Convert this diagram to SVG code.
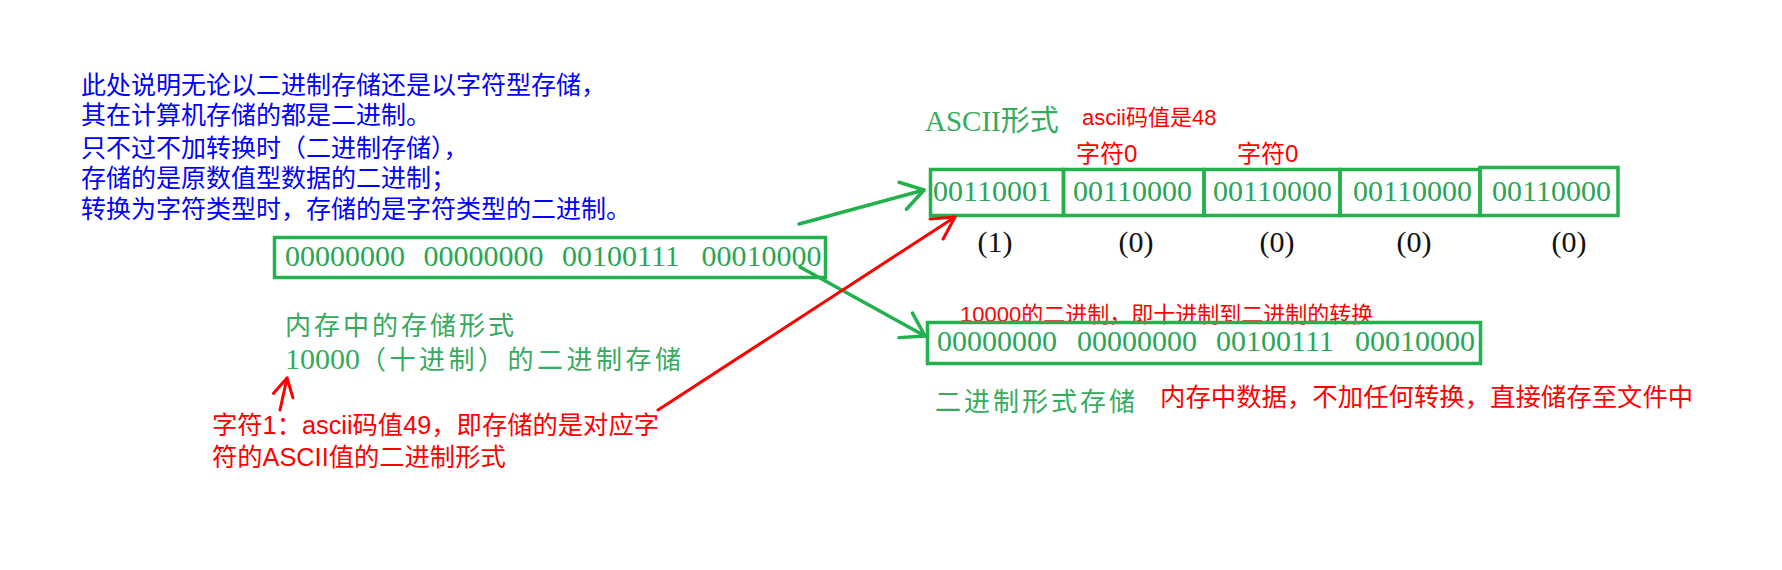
<svg xmlns="http://www.w3.org/2000/svg" width="1782" height="570" viewBox="0 0 1782 570">
<style>
.bg{fill:#ffffff}
.box{fill:none;stroke:#22b14c;stroke-width:3.5}
.bin{font-family:"Liberation Serif","Noto Sans CJK SC",serif;font-size:30px;fill:#2aa656}
.glab{font-family:"Liberation Serif","Noto Sans CJK SC",serif;font-size:26px;letter-spacing:3px;fill:#35ab5e}
.gnum{font-size:30px;letter-spacing:0}
.blue{font-family:"Liberation Sans","Noto Sans CJK SC",sans-serif;font-size:25px;fill:#0000ff}
.red{font-family:"Liberation Sans","Noto Sans CJK SC",sans-serif;fill:#ff0000}
.idx{font-family:"Liberation Serif","Noto Sans CJK SC",serif;font-size:30px;fill:#111;text-anchor:middle}
.gline{fill:none;stroke:#22b14c;stroke-width:3.5;stroke-linecap:round}
.rline{fill:none;stroke:#ff0000;stroke-width:3;stroke-linecap:round}
</style>
<defs>
<marker id="ag" markerUnits="userSpaceOnUse" markerWidth="40" markerHeight="40" viewBox="-30 -20 40 40" refX="0" refY="0" orient="auto">
<path d="M-22,-14 L0,0 L-22,14" fill="none" stroke="#22b14c" stroke-width="3.5" stroke-linecap="round" stroke-linejoin="round"/>
</marker>
<marker id="ar" markerUnits="userSpaceOnUse" markerWidth="40" markerHeight="40" viewBox="-30 -20 40 40" refX="0" refY="0" orient="auto">
<path d="M-22,-12 L0,0 L-22,12" fill="none" stroke="#ff0000" stroke-width="3" stroke-linecap="round" stroke-linejoin="round"/>
</marker>
<marker id="ar2" markerUnits="userSpaceOnUse" markerWidth="40" markerHeight="40" viewBox="-30 -20 40 40" refX="0" refY="0" orient="auto">
<path d="M-18,-10 L0,0 L-18,10" fill="none" stroke="#ff0000" stroke-width="3" stroke-linecap="round" stroke-linejoin="round"/>
</marker>
</defs>
<rect class="bg" x="0" y="0" width="1782" height="570"/>

<g id="note-blue">
<text class="blue" x="81" y="94">此处说明无论以二进制存储还是以字符型存储，</text>
<text class="blue" x="81" y="124">其在计算机存储的都是二进制。</text>
<text class="blue" x="81" y="157">只不过不加转换时（二进制存储），</text>
<text class="blue" x="81" y="187">存储的是原数值型数据的二进制；</text>
<text class="blue" x="81" y="218">转换为字符类型时，存储的是字符类型的二进制。</text>
</g>

<g id="memory-box">
<rect class="box" x="274.5" y="237.5" width="551" height="40"/>
<text class="bin" y="265.5"><tspan x="285">00000000</tspan><tspan x="423.5">00000000</tspan><tspan x="562">00100111</tspan><tspan x="701.5">00010000</tspan></text>
</g>

<g id="memory-label">
<text class="glab" x="285" y="335">内存中的存储形式</text>
<text class="glab" y="369"><tspan class="gnum" x="285">10000</tspan><tspan x="360" style="letter-spacing:3.5px">（十进制）的二进制存储</tspan></text>
</g>

<g id="ascii-title">
<text x="925" y="131" style="font-family:'Liberation Serif','Noto Sans CJK SC',serif;font-size:29px;fill:#35ab5e">ASCII形式</text>
<text class="red" x="1082" y="125" style="font-size:22px">ascii码值是48</text>
<text class="red" x="1076" y="161.5" style="font-size:24px">字符0</text>
<text class="red" x="1237" y="161.5" style="font-size:24px">字符0</text>
</g>

<g id="ascii-box">
<rect class="box" x="930.5" y="169.5" width="133" height="46"/>
<rect class="box" x="1063.5" y="169.5" width="140.5" height="46"/>
<rect class="box" x="1204" y="169.5" width="136" height="46"/>
<rect class="box" x="1340" y="169.5" width="140" height="46"/>
<rect class="box" x="1480" y="167.5" width="138" height="48"/>
<text class="bin" y="201"><tspan x="933">00110001</tspan><tspan x="1073">00110000</tspan><tspan x="1213">00110000</tspan><tspan x="1353">00110000</tspan><tspan x="1492">00110000</tspan></text>
</g>

<g id="ascii-index">
<text class="idx" x="995" y="252">(1)</text>
<text class="idx" x="1136" y="252">(0)</text>
<text class="idx" x="1277" y="252">(0)</text>
<text class="idx" x="1414" y="252">(0)</text>
<text class="idx" x="1569" y="252">(0)</text>
</g>

<g id="binary-box">
<text class="red" x="960" y="322" style="font-size:22px">10000的二进制，即十进制到二进制的转换</text>
<rect class="box" x="927.5" y="322.5" width="553" height="41"/>
<text class="bin" y="351"><tspan x="937">00000000</tspan><tspan x="1077">00000000</tspan><tspan x="1216">00100111</tspan><tspan x="1355">00010000</tspan></text>
</g>

<g id="binary-label">
<text class="glab" x="935" y="411">二进制形式存储</text>
<text class="red" x="1160" y="406" style="font-size:25.4px">内存中数据，不加任何转换，直接储存至文件中</text>
</g>

<g id="char-note">
<text class="red" x="212" y="433.5" style="font-size:25.3px">字符1：ascii码值49，即存储的是对应字</text>
<text class="red" x="212" y="465.5" style="font-size:25.3px">符的ASCII值的二进制形式</text>
</g>

<g id="connectors">
<path class="gline" d="M799,224 L924,190" marker-end="url(#ag)"/>
<path class="gline" d="M800,267 L925,336" marker-end="url(#ag)"/>
<path class="rline" d="M658,410 L955,217" marker-end="url(#ar)"/>
<path class="rline" d="M280,410 L287,378" marker-end="url(#ar2)"/>
</g>
</svg>
